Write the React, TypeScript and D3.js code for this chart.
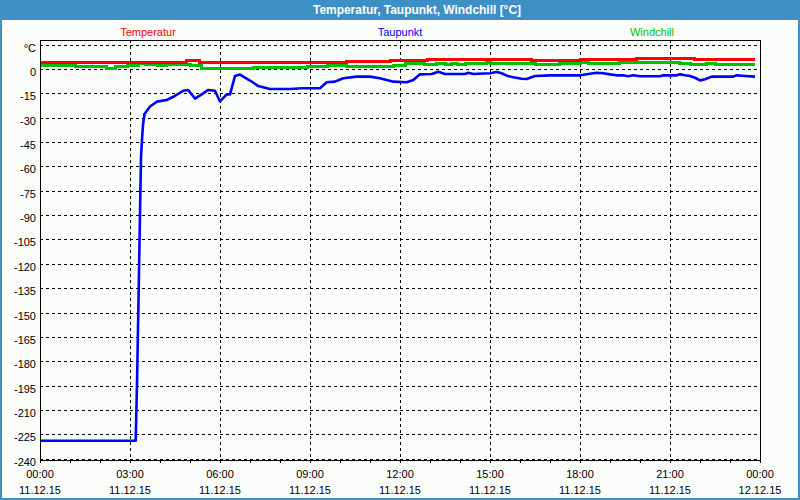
import React from "react";
import * as d3 from "d3";

// hours after 11.12.15 00:00 and values in °C
const tempHours = [0, 1.167, 2.9, 4.867, 5.333, 5.867, 10.233, 11.667, 12.9, 16.367, 18.0, 19.867, 21.833, 23.833];
const tempValues = [4.3, 3.7, 4.3, 5.2, 4.0, 3.7, 4.5, 5.4, 6.0, 5.2, 6.0, 6.6, 5.7, 5.7];

const windHours = [0, 1.167, 2.233, 2.5, 2.9, 3.267, 3.4, 3.533, 3.9, 4.233, 5.0, 5.367, 5.933, 7.1, 8.9, 9.1, 9.567, 10.233, 11.767, 12.167, 12.833, 13.2, 13.533, 13.733, 13.933, 14.167, 14.867, 15.0, 16.5, 17.333, 18.0, 18.267, 19.333, 21.333, 21.667, 22.233, 22.533, 23.833];
const windValues = [2.0, 1.4, 0.6, 1.4, 2.3, 3.1, 3.5, 2.6, 2.0, 2.6, 2.0, 0.6, 0.4, 0.7, 1.8, 1.4, 2.0, 1.8, 2.2, 3.1, 2.6, 3.1, 2.6, 3.1, 2.6, 3.1, 3.9, 3.1, 2.5, 3.1, 3.7, 3.1, 3.9, 3.1, 2.5, 3.1, 2.5, 2.5];

const dewHours = [0, 3.19, 3.233, 3.267, 3.3, 3.333, 3.367, 3.4, 3.433, 3.483, 3.667, 3.9, 4.223, 4.443, 4.777, 4.933, 5.167, 5.39, 5.61, 5.833, 6.0, 6.223, 6.333, 6.5, 6.667, 7.0, 7.277, 7.667, 8.333, 8.723, 9.333, 9.557, 9.833, 10.11, 10.557, 11.0, 11.333, 11.777, 12.223, 12.443, 12.667, 13.057, 13.277, 13.5, 14.167, 14.277, 14.443, 15.0, 15.223, 15.39, 15.557, 15.777, 16.057, 16.223, 16.333, 16.5, 17.0, 18.0, 18.277, 18.557, 18.777, 19.0, 19.223, 19.443, 19.61, 19.777, 20.0, 20.667, 20.777, 21.223, 21.333, 21.5, 21.667, 21.833, 22.0, 22.167, 22.39, 23.11, 23.223, 23.5, 23.833];
const dewValues = [-229.0, -229.0, -194.7, -159.6, -125.1, -89.3, -54.2, -43.7, -34.5, -27.7, -23.1, -20.1, -19.1, -17.1, -13.4, -12.9, -18.2, -15.6, -12.9, -13.4, -20.0, -15.6, -15.6, -4.3, -3.4, -7.1, -10.5, -12.3, -12.3, -11.9, -11.9, -8.2, -7.8, -5.7, -4.7, -4.7, -5.7, -7.8, -8.2, -6.8, -3.3, -3.1, -1.7, -3.1, -3.1, -2.3, -3.1, -2.6, -1.8, -2.6, -4.1, -5.1, -6.0, -6.2, -5.4, -4.3, -3.9, -3.9, -3.1, -2.3, -2.6, -3.3, -3.9, -3.9, -4.5, -3.9, -4.5, -4.5, -3.9, -3.9, -3.3, -3.9, -4.3, -5.4, -7.0, -6.3, -4.7, -4.7, -3.9, -4.3, -4.7];

const yTicks = [15, 0, -15, -30, -45, -60, -75, -90, -105, -120, -135, -150, -165, -180, -195, -210, -225, -240];
const xTickHours = [0, 3, 6, 9, 12, 15, 18, 21, 24];
const seriesNames = ["Temperatur", "Taupunkt", "Windchill"];
const seriesColors = ["#ff0000", "#0000ff", "#00c000"];
const title = "Temperatur, Taupunkt, Windchill [°C]";

const W = 800, H = 500;
const L = 40, R = 760, T = 40, B = 460;
const FONT = "'Liberation Sans', Arial, sans-serif";

const t0 = Date.UTC(2015, 11, 11, 0, 0);
const toDate = (h: number) => new Date(t0 + h * 3600 * 1000);

export default function App() {
  const x = d3.scaleUtc().domain([toDate(0), toDate(24)]).range([L, R]);
  const y = d3.scaleLinear().domain([-225, 0]).range([434.3, 69]);

  const mk = (hs: number[], vs: number[]) => hs.map((h, i) => [toDate(h), vs[i]] as [Date, number]);
  const stepLine = d3.line<[Date, number]>().x(d => x(d[0])).y(d => y(d[1])).curve(d3.curveStepAfter);
  const linLine = d3.line<[Date, number]>().x(d => x(d[0])).y(d => y(d[1]));

  const fmtT = d3.utcFormat("%H:%M");
  const fmtD = d3.utcFormat("%d.%m.%y");
  const hourTicks = d3.range(0, 25);

  return (
    <svg width={W} height={H} style={{ position: "fixed", left: 0, top: 0, display: "block" }} fontFamily={FONT}>
      <rect x={0} y={0} width={W} height={H} fill="#3d8fc6" />
      <rect x={2} y={20} width={W - 4} height={H - 22} fill="#fbfdfb" />
      <text x={313} y={14} fill="#ffffff" fontWeight="bold" fontSize={12} textLength={208} lengthAdjust="spacingAndGlyphs">{title}</text>

      {seriesNames.map((n, i) => (
        <text key={n} x={L + (R - L) * [0.15, 0.5, 0.85][i]} y={36} fill={seriesColors[i]} fontSize={11} textAnchor="middle">{n}</text>
      ))}

      {/* horizontal grid */}
      {yTicks.map(v => {
        const gy = Math.round(y(v)) + 0.5;
        return <line key={"h" + v} x1={L} x2={R} y1={gy} y2={gy} stroke="#000" strokeDasharray="3,3" shapeRendering="crispEdges" />;
      })}
      {/* vertical grid */}
      {xTickHours.slice(1, -1).map(h => {
        const gx = Math.round(x(toDate(h))) + 0.5;
        return <line key={"v" + h} x1={gx} x2={gx} y1={T} y2={B} stroke="#000" strokeDasharray="3,3" shapeRendering="crispEdges" />;
      })}
      {/* minor ticks */}
      {hourTicks.map(h => {
        const gx = Math.round(x(toDate(h))) + 0.5;
        return <line key={"t" + h} x1={gx} x2={gx} y1={B} y2={B + 3} stroke="#000" shapeRendering="crispEdges" />;
      })}

      {/* series */}
      <path d={stepLine(mk(windHours, windValues)) || ""} fill="none" stroke={seriesColors[2]} strokeWidth={3} shapeRendering="crispEdges" />
      <path d={stepLine(mk(tempHours, tempValues)) || ""} fill="none" stroke={seriesColors[0]} strokeWidth={3} shapeRendering="crispEdges" />
      <path d={linLine(mk(dewHours, dewValues)) || ""} fill="none" stroke={seriesColors[1]} strokeWidth={2.6} strokeLinejoin="round" />

      {/* frame */}
      <rect x={L + 0.5} y={T + 0.5} width={R - L} height={B - T} fill="none" stroke="#000" shapeRendering="crispEdges" />

      {/* y labels */}
      {yTicks.map(v => (
        <text key={"yl" + v} x={36} y={Math.round(y(v)) + 6.5} fontSize={11} textAnchor="end" fill="#000">{v === 15 ? "°C" : String(v)}</text>
      ))}
      {/* x labels */}
      {xTickHours.map(h => (
        <g key={"xl" + h}>
          <text x={x(toDate(h))} y={478} fontSize={11} textAnchor="middle" fill="#000">{fmtT(toDate(h))}</text>
          <text x={x(toDate(h))} y={494} fontSize={11} textAnchor="middle" fill="#000">{fmtD(toDate(h))}</text>
        </g>
      ))}
    </svg>
  );
}
